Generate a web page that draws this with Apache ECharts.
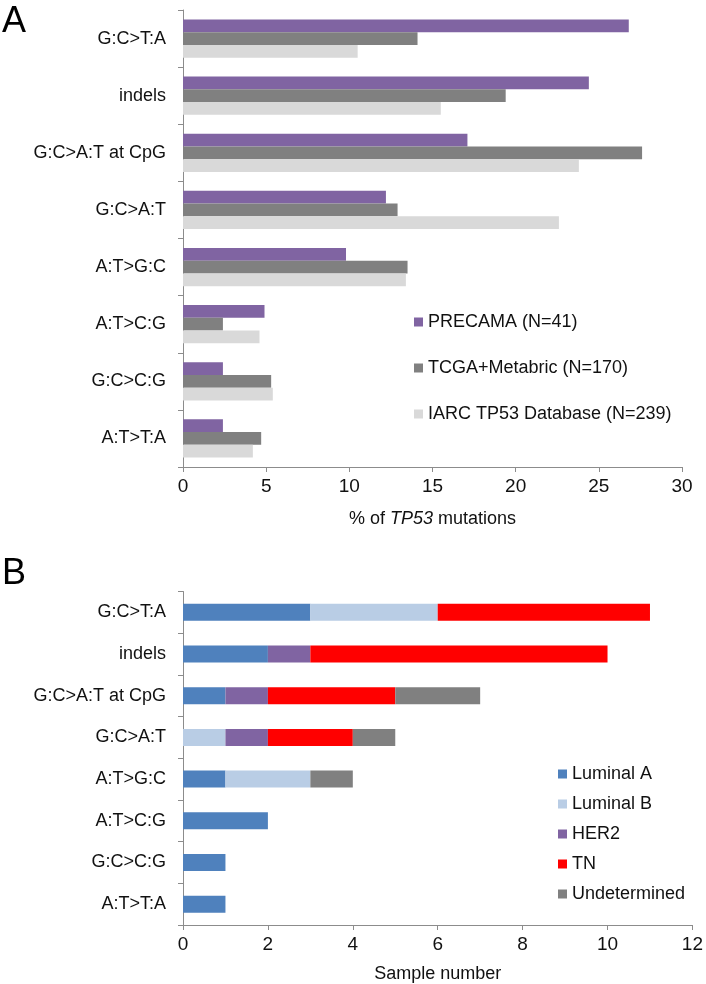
<!DOCTYPE html>
<html>
<head>
<meta charset="utf-8">
<script src="https://cdn.jsdelivr.net/npm/echarts@6/dist/echarts.min.js"></script>
<style>
html,body{margin:0;padding:0;background:#fff;}
#c{width:706px;height:984px;}
</style>
</head>
<body>
<div id="c"></div>
<script>
// ---- Data ----
const categories = ['G:C>T:A','indels','G:C>A:T at CpG','G:C>A:T','A:T>G:C','A:T>C:G','G:C>C:G','A:T>T:A'];

// Panel A: % of TP53 mutations
const seriesNamesA = ['PRECAMA (N=41)','TCGA+Metabric (N=170)','IARC TP53 Database (N=239)'];
const precama = [26.8, 24.4, 17.1, 12.2, 9.8, 4.9, 2.4, 2.4];
const tcgaMetabric = [14.1, 19.4, 27.6, 12.9, 13.5, 2.4, 5.3, 4.7];
const iarc = [10.5, 15.5, 23.8, 22.6, 13.4, 4.6, 5.4, 4.2];
const ticksA = [0, 5, 10, 15, 20, 25, 30];

// Panel B: sample number by subtype
const seriesNamesB = ['Luminal A','Luminal B','HER2','TN','Undetermined'];
const luminalA = [3, 2, 1, 0, 1, 2, 1, 1];
const luminalB = [3, 0, 0, 1, 2, 0, 0, 0];
const her2 = [0, 1, 1, 1, 0, 0, 0, 0];
const tn = [5, 7, 3, 2, 0, 0, 0, 0];
const undetermined = [0, 0, 2, 1, 1, 0, 0, 0];
const ticksB = [0, 2, 4, 6, 8, 10, 12];

// ---- Styles ----
const FONT = 'Liberation Sans, Arial, sans-serif';
const TXT = '#111';
const AXC = '#8c8c8c';
const colorsA = ['#8064A2', '#808080', '#D9D9D9'];
const colorsB = ['#4F81BD', '#B9CDE5', '#8064A2', '#FF0000', '#808080'];

const chart = echarts.init(document.getElementById('c'), null, {renderer: 'canvas'});

function catAxis(gridIndex) {
  return {
    type: 'category', gridIndex: gridIndex, data: categories, inverse: true,
    axisLine: {show: true, lineStyle: {color: AXC, width: 1}},
    axisTick: {show: true, length: 5, lineStyle: {color: AXC}},
    axisLabel: {color: TXT, fontFamily: FONT, fontSize: 18, margin: 17},
    splitLine: {show: false}
  };
}

const dataA = [precama, tcgaMetabric, iarc];
const dataB = [luminalA, luminalB, her2, tn, undetermined];

const option = {
  animation: false,
  backgroundColor: '#fff',
  textStyle: {fontFamily: FONT},
  graphic: [
    {type: 'text', left: 2, top: 4, style: {text: 'A', font: '36px ' + FONT, fill: '#000'}},
    {type: 'text', left: 2, top: 556, style: {text: 'B', font: '36px ' + FONT, fill: '#000'}}
  ],
  grid: [
    {left: 183, right: 24, top: 10, height: 457},
    {left: 183, right: 9.5, top: 591.5, height: 337.5}
  ],
  legend: [
    {
      data: seriesNamesA, orient: 'vertical', left: 409, top: 307,
      icon: 'rect', itemWidth: 9, itemHeight: 9, itemGap: 26,
      textStyle: {color: TXT, fontFamily: FONT, fontSize: 18, lineHeight: 20}
    },
    {
      data: seriesNamesB, orient: 'vertical', left: 553, top: 759,
      icon: 'rect', itemWidth: 9, itemHeight: 9, itemGap: 10,
      textStyle: {color: TXT, fontFamily: FONT, fontSize: 18, lineHeight: 20}
    }
  ],
  xAxis: [
    {
      type: 'value', gridIndex: 0, min: ticksA[0], max: ticksA[ticksA.length - 1], interval: 5,
      name: '{n|% of }{i|TP53}{n| mutations}', nameLocation: 'middle', nameGap: 43,
      nameTextStyle: {rich: {
        n: {fontFamily: FONT, fontSize: 18, color: TXT},
        i: {fontFamily: FONT, fontSize: 18, color: TXT, fontStyle: 'italic'}
      }},
      axisLine: {show: true, lineStyle: {color: AXC}},
      axisTick: {show: true, length: 5, lineStyle: {color: AXC}},
      axisLabel: {color: TXT, fontFamily: FONT, fontSize: 19, margin: 10},
      splitLine: {show: false}
    },
    {
      type: 'value', gridIndex: 1, min: ticksB[0], max: ticksB[ticksB.length - 1], interval: 2,
      name: 'Sample number', nameLocation: 'middle', nameGap: 40,
      nameTextStyle: {fontFamily: FONT, fontSize: 18, color: TXT},
      axisLine: {show: true, lineStyle: {color: AXC}},
      axisTick: {show: true, length: 5, lineStyle: {color: AXC}},
      axisLabel: {color: TXT, fontFamily: FONT, fontSize: 19, margin: 10},
      splitLine: {show: false}
    }
  ],
  yAxis: [catAxis(0), catAxis(1)],
  series: [
    ...seriesNamesA.map((n, i) => ({
      name: n, type: 'bar', xAxisIndex: 0, yAxisIndex: 0, data: dataA[i],
      barGap: '0%', barCategoryGap: '33%',
      itemStyle: {color: colorsA[i]}
    })),
    ...seriesNamesB.map((n, i) => ({
      name: n, type: 'bar', xAxisIndex: 1, yAxisIndex: 1, data: dataB[i],
      stack: 'B', barWidth: 17,
      itemStyle: {color: colorsB[i]}
    }))
  ]
};
chart.setOption(option);
</script>
</body>
</html>
